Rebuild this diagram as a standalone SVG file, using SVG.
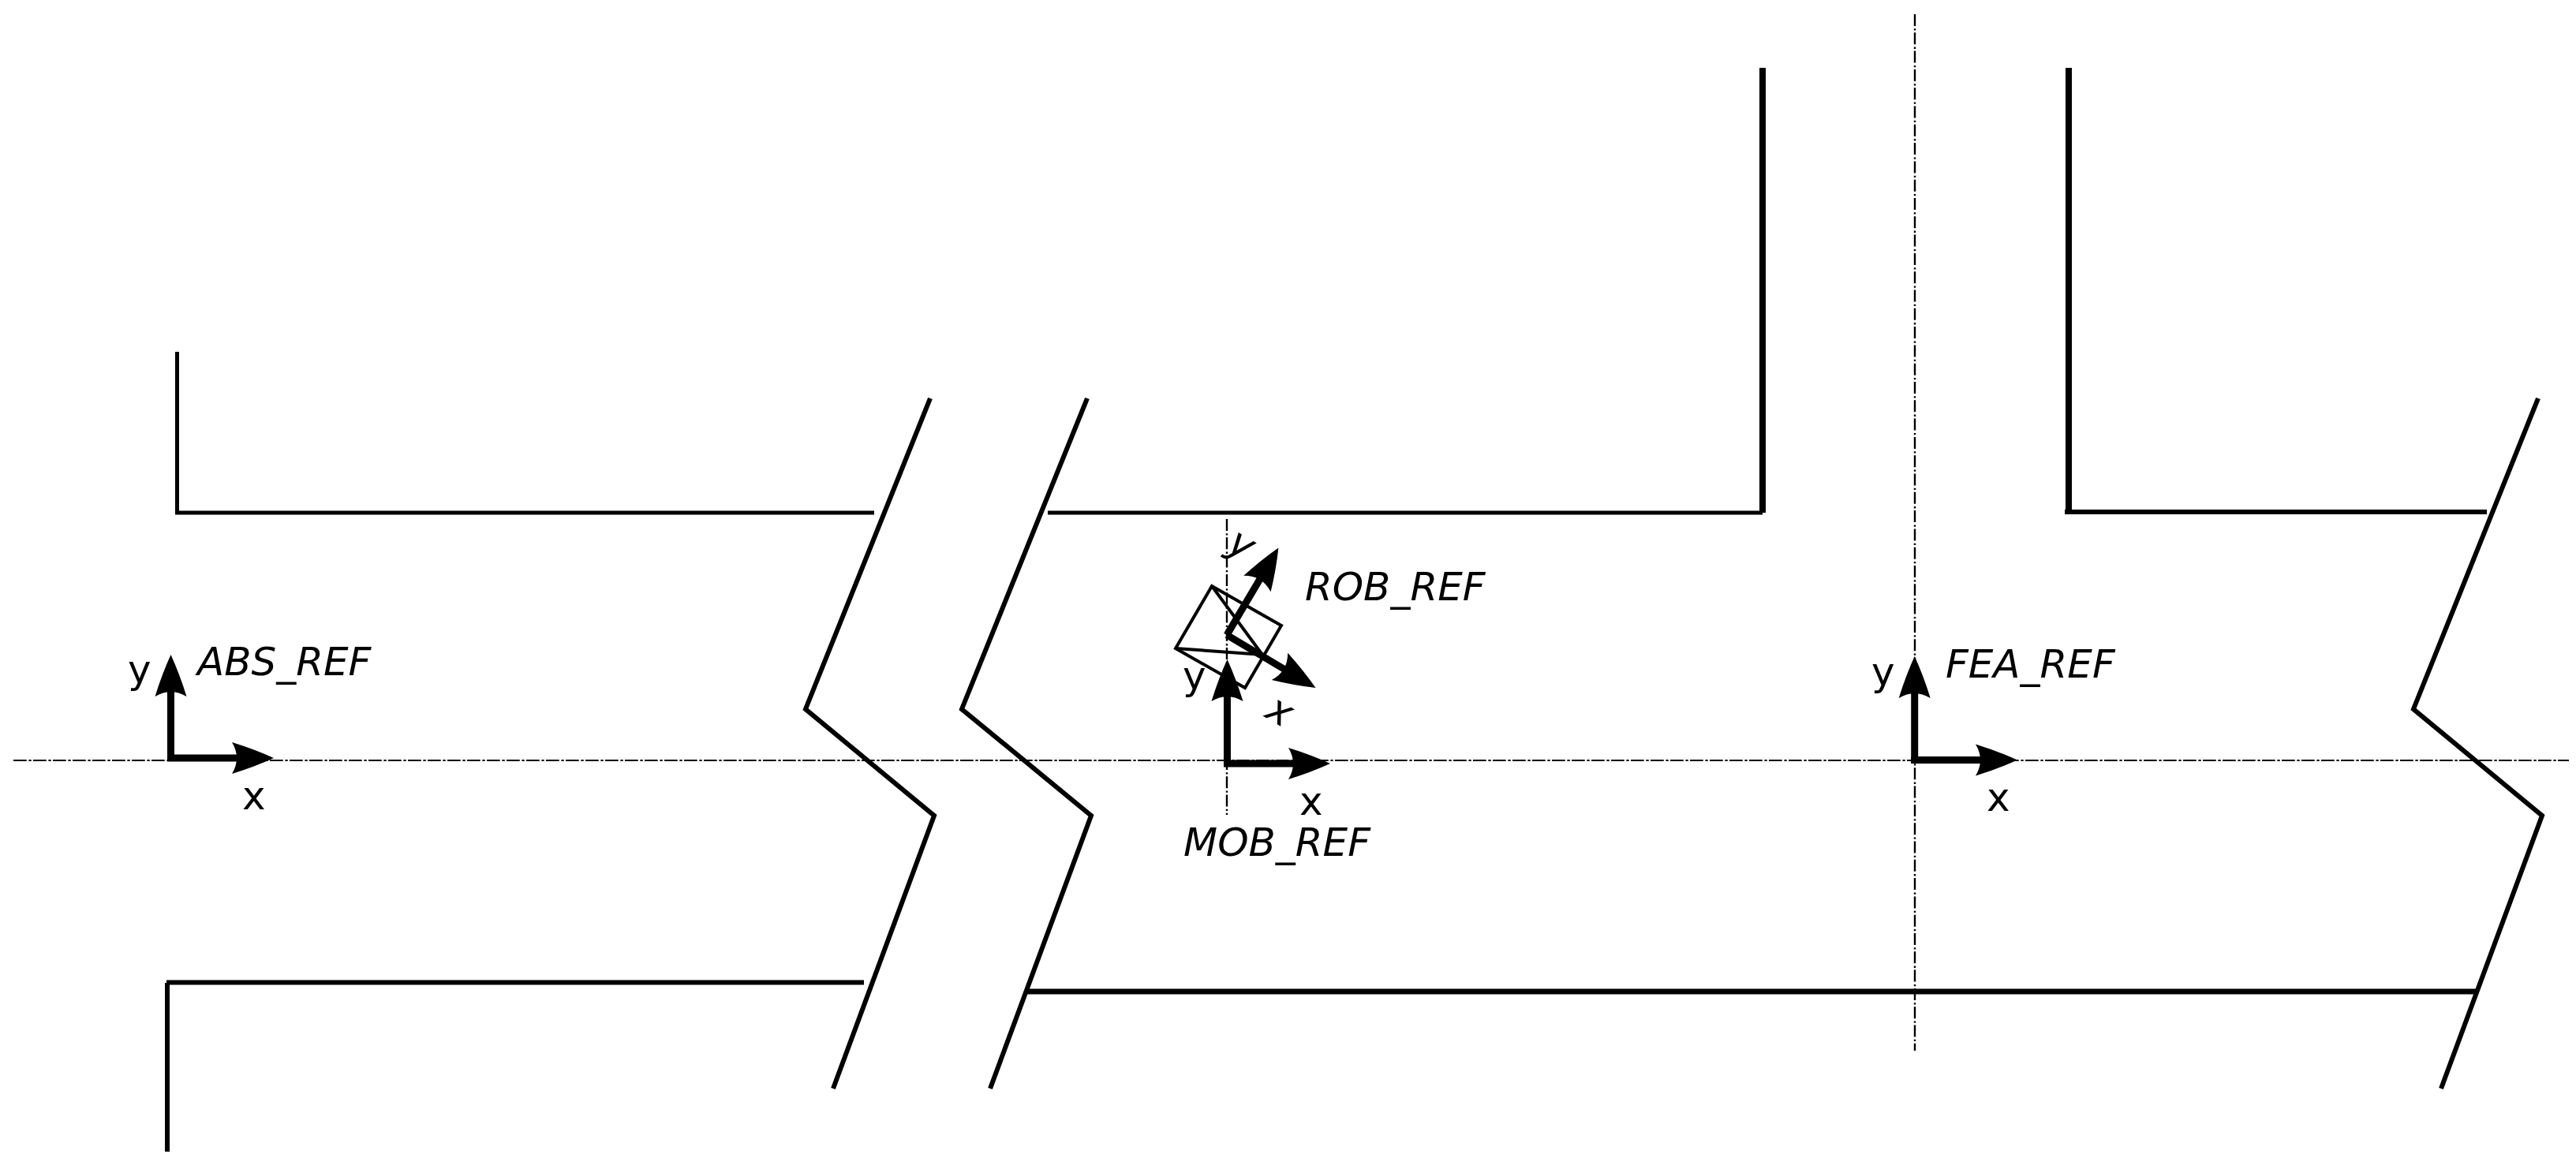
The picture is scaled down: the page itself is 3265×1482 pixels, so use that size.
<svg xmlns="http://www.w3.org/2000/svg" width="3265" height="1482" viewBox="0 0 3265 1482">
<style>
.wall{fill:none;stroke:#000;stroke-width:5;stroke-linejoin:miter}
.brk{fill:none;stroke:#000;stroke-width:6;stroke-linejoin:miter}
.axis{fill:none;stroke:#000;stroke-width:9;marker-end:url(#head)}
.ch{fill:none;stroke:#000;stroke-width:2.2;stroke-dasharray:16.7 2.7 3.3 2.3}
.chv{fill:none;stroke:#000;stroke-width:2.4;stroke-dasharray:15 3.3 2.3 2.7}
.rob{fill:none;stroke:#000;stroke-width:4}
text{font-family:"DejaVu Sans",sans-serif;font-size:50px;fill:#000}
.it{font-style:italic}
</style>
<defs>
<marker id="head" markerUnits="userSpaceOnUse" markerWidth="64" markerHeight="48" refX="10" refY="24" orient="auto" overflow="visible">
<path d="M3,4 Q32,13 56,24 Q32,35 3,44 Q15,24 3,4 Z" fill="#000"/>
</marker>
</defs>
<rect width="3265" height="1482" fill="#fff"/>
<g id="centerlines">
<path class="ch" d="M17,964 H3256"/>
<path class="chv" d="M2427,18 V1332"/>
<path class="chv" d="M1555,658 V1033"/>
</g>
<g id="walls">
<path class="wall" d="M224.500,446 V650 H1108"/>
<path class="brk" d="M1179,505 L1021,899 L1184,1034 L1056,1380"/>
<path class="brk" d="M1378,505 L1219,899 L1383,1034 L1255,1380"/>
<path class="brk" d="M3217,505 L3059,899 L3222,1034 L3094,1380"/>
<path class="wall" d="M1328,650 H2234"/>
<path class="wall" d="M2234,86 V650" style="stroke-width:8"/>
<path class="wall" d="M2622,86 V649" style="stroke-width:8"/>
<path class="wall" d="M2617,649 H3152" style="stroke-width:6"/>
<path class="wall" d="M212,1460 V1246 M211,1245.500 H1095" style="stroke-width:6"/>
<path class="wall" d="M1302,1257 H3138" style="stroke-width:7"/>
</g>
<g id="ABS_REF">
<path class="axis" d="M216.500,965 V876"/>
<path class="axis" d="M212,961 H301"/>
<text x="162" y="866">y</text>
<text x="307" y="1026">x</text>
<text class="it" x="250" y="856">ABS_REF</text>
</g>
<g id="MOB_REF">
<path class="axis" d="M1555.500,972 V882"/>
<path class="axis" d="M1551,968 H1640"/>
<text x="1499" y="874">y</text>
<text x="1647" y="1033">x</text>
<text class="it" x="1500" y="1085">MOB_REF</text>
</g>
<g id="ROB_REF">
<path class="rob" d="M1536,743 L1624,793 L1578,872 L1490,822 Z"/>
<path class="rob" d="M1536,743 L1600,830 L1490,822"/>
<path class="axis" d="M1555,805 L1597,734"/>
<path class="axis" d="M1555,805 L1628,848.500"/>
<text class="it" transform="translate(1572,694) rotate(30)" x="-15" y="12">y</text>
<text class="it" transform="translate(1620,904) rotate(30)" x="-14" y="13">x</text>
<text class="it" x="1654" y="760.500">ROB_REF</text>
</g>
<g id="FEA_REF">
<path class="axis" d="M2426.700,968 V878"/>
<path class="axis" d="M2422,963.500 H2511"/>
<text x="2372" y="869">y</text>
<text x="2518" y="1028">x</text>
<text class="it" x="2466" y="859">FEA_REF</text>
</g>
</svg>
